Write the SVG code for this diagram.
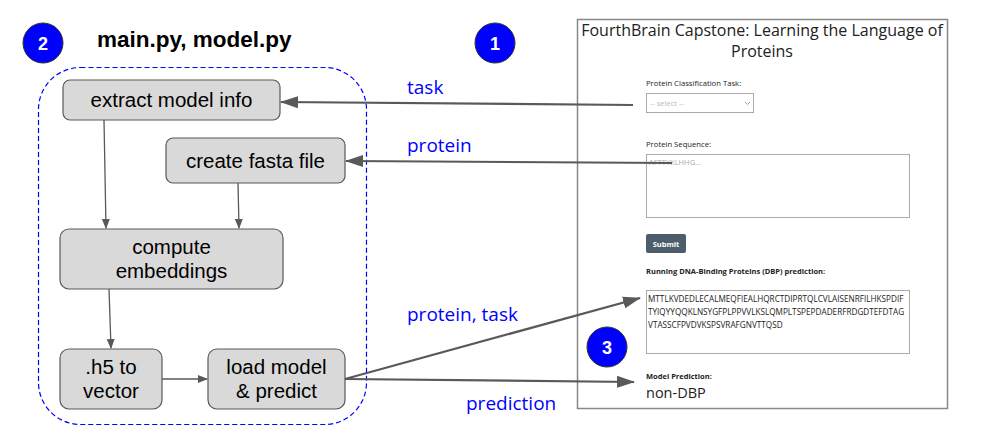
<svg xmlns="http://www.w3.org/2000/svg" width="987" height="435" viewBox="0 0 987 435">
<defs>
<style>
.node rect{fill:#d9d9d9;stroke:#595959;stroke-width:1.2}
.nt{font-family:"Liberation Sans",Arial,sans-serif;font-size:20.5px;fill:#000;text-anchor:middle}
.lbl{font-family:"Open Sans","Noto Sans",sans-serif;font-size:19px;fill:#0000ff}
.badge circle{fill:#0000ff;stroke:#333;stroke-width:1}
.badge text{font-family:"Liberation Sans",Arial,sans-serif;font-size:18px;font-weight:bold;fill:#fff;text-anchor:middle}
.conn line{stroke:#595959;stroke-width:1.3}
.big line{stroke:#595959;stroke-width:2.2}
.ui{font-family:"Open Sans","Noto Sans",sans-serif;fill:#222}
</style>
<marker id="ah" markerWidth="10" markerHeight="10" refX="9" refY="5" orient="auto" markerUnits="userSpaceOnUse"><path d="M0,1 L10,5 L0,9 z" fill="#595959"/></marker>
<marker id="ahb" markerWidth="18" markerHeight="14" refX="17" refY="7" orient="auto" markerUnits="userSpaceOnUse"><path d="M0,1 L18,7 L0,13 z" fill="#595959"/></marker>
</defs>
<rect width="987" height="435" fill="#fff"/>

<!-- screenshot panel -->
<g id="app">
<rect x="577.5" y="19.5" width="370" height="389" fill="#fff" stroke="#888" stroke-width="1.5"/>
<text class="ui" x="762" y="36" font-size="16" text-anchor="middle">FourthBrain Capstone: Learning the Language of</text>
<text class="ui" x="762" y="57" font-size="16" text-anchor="middle">Proteins</text>
<text class="ui" x="646" y="86" font-size="7.7">Protein Classification Task:</text>
<rect x="646.5" y="93.5" width="107" height="19" fill="#fff" stroke="#aaa"/>
<text class="ui" x="650" y="106" font-size="7.5" style="fill:#bbb">-- select --</text>
<path d="M745,102 l2.5,2.5 l2.5,-2.5" fill="none" stroke="#888" stroke-width="0.8"/>
<text class="ui" x="646" y="147" font-size="7.7">Protein Sequence:</text>
<rect x="646.5" y="154.5" width="263" height="63" fill="#fff" stroke="#aaa"/>
<text class="ui" x="649" y="165" font-size="7.5" style="fill:#aaa">AFTTYKLHHG...</text>
<rect x="646" y="234" width="40" height="19" rx="2" fill="#4d5d6c"/>
<text class="ui" x="666" y="247" font-size="7.5" font-weight="bold" text-anchor="middle" style="fill:#fff">Submit</text>
<text class="ui" x="646" y="274" font-size="7.5" font-weight="bold">Running DNA-Binding Proteins (DBP) prediction:</text>
<rect x="646.5" y="290.5" width="263" height="63" fill="#fff" stroke="#aaa"/>
<text class="ui" x="648" y="302" font-size="8.2">MTTLKVDEDLECALMEQFIEALHQRCTDIPRTQLCVLAISENRFILHKSPDIF</text>
<text class="ui" x="648" y="315" font-size="8.2">TYIQYYQQKLNSYGFPLPPVVLKSLQMPLTSPEPDADERFRDGDTEFDTAG</text>
<text class="ui" x="648" y="328" font-size="8.2">VTASSCFPVDVKSPSVRAFGNVTTQSD</text>
<text class="ui" x="646" y="379" font-size="7.5" font-weight="bold">Model Prediction:</text>
<text class="ui" x="646" y="398" font-size="14.5">non-DBP</text>
</g>

<!-- title and badges -->
<text x="97" y="47" font-family="'Liberation Sans',Arial,sans-serif" font-size="22.5" font-weight="bold" fill="#000">main.py, model.py</text>
<g id="badge2" class="badge"><circle cx="43" cy="43" r="20"/><text x="43" y="50">2</text></g>
<g id="badge1" class="badge"><circle cx="495" cy="43" r="20"/><text x="495" y="50">1</text></g>
<g id="badge3" class="badge"><circle cx="607" cy="347" r="20"/><text x="607" y="354">3</text></g>

<!-- container -->
<rect id="container" x="38.5" y="67.5" width="328" height="357" rx="42" fill="none" stroke="#0000ff" stroke-width="1.2" stroke-dasharray="5,3"/>

<!-- nodes -->
<g id="extract" class="node"><rect x="63" y="80" width="217" height="40" rx="7"/><text class="nt" x="171.5" y="107">extract model info</text></g>
<g id="fasta" class="node"><rect x="166" y="138" width="179" height="45" rx="7"/><text class="nt" x="255.5" y="168">create fasta file</text></g>
<g id="embed" class="node"><rect x="60" y="229" width="223" height="60" rx="9"/><text class="nt" x="171.5" y="254">compute</text><text class="nt" x="171.5" y="278">embeddings</text></g>
<g id="h5" class="node"><rect x="60" y="349" width="102" height="60" rx="9"/><text class="nt" x="111" y="374">.h5 to</text><text class="nt" x="111" y="398">vector</text></g>
<g id="predict" class="node"><rect x="208" y="349" width="137" height="60" rx="9"/><text class="nt" x="276.5" y="374">load model</text><text class="nt" x="276.5" y="398">&amp; predict</text></g>

<!-- connectors -->
<g id="connectors">
<g class="conn">
<line x1="104" y1="120" x2="106" y2="228" marker-end="url(#ah)"/>
<line x1="238" y1="183" x2="239" y2="228" marker-end="url(#ah)"/>
<line x1="109" y1="289" x2="111" y2="348" marker-end="url(#ah)"/>
<line x1="162" y1="379" x2="207" y2="379" marker-end="url(#ah)"/>
</g>
<g class="big">
<line x1="633" y1="105" x2="281" y2="102" marker-end="url(#ahb)"/>
<line x1="672" y1="163" x2="346" y2="161" marker-end="url(#ahb)"/>
<line x1="345" y1="379" x2="640" y2="298" marker-end="url(#ahb)"/>
<line x1="345" y1="379" x2="634" y2="382" marker-end="url(#ahb)"/>
</g>
</g>

<!-- labels -->
<text class="lbl" x="407" y="94">task</text>
<text class="lbl" x="407" y="152">protein</text>
<text class="lbl" x="407" y="321">protein, task</text>
<text class="lbl" x="466" y="410">prediction</text>
</svg>
